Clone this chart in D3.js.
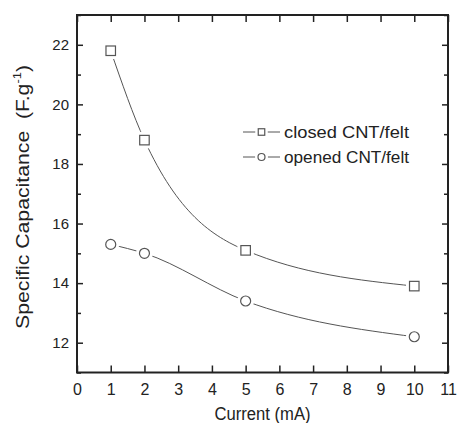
<!DOCTYPE html>
<html><head><meta charset="utf-8">
<script src="https://cdn.jsdelivr.net/npm/d3@7"></script>
<style>body{margin:0;background:#fff}svg{display:block}text{font-family:"Liberation Sans",Arial,sans-serif;fill:#222}</style>
</head><body>
<script>
const currents = [1, 2, 5, 10];
const closedCap = [21.8, 18.8, 15.1, 13.9];
const openedCap = [15.3, 15.0, 13.4, 12.2];
const seriesNames = ["closed CNT/felt", "opened CNT/felt"];
const xTicks = [0,1,2,3,4,5,6,7,8,9,10,11];
const yTicks = [12,14,16,18,20,22];
const yMinor = [11,13,15,17,19,21,23];

const W=458,H=423;
const svg=d3.select("body").append("svg").attr("width",W).attr("height",H);
const x=d3.scaleLinear().domain([0,11]).range([77,448]);
const y=d3.scaleLinear().domain([11,23]).range([372.5,15]);
const lineCol="#555";

// curves
const line=d3.line().x(d=>x(d[0])).y(d=>y(d[1])).curve(d3.curveMonotoneX);
const series=[
  {name:seriesNames[0],vals:currents.map((c,i)=>[c,closedCap[i]]),shape:"square"},
  {name:seriesNames[1],vals:currents.map((c,i)=>[c,openedCap[i]]),shape:"circle"}
];
series.forEach(s=>{
  svg.append("path").attr("d",line(s.vals)).attr("fill","none").attr("stroke",lineCol).attr("stroke-width",1);
});
function marker(g,shape,cx,cy,size,halo){
  if(shape==="square"){
    if(halo) g.append("rect").attr("x",cx-size/2).attr("y",cy-size/2).attr("width",size).attr("height",size).attr("fill","#fff").attr("stroke","#fff").attr("stroke-width",halo);
    g.append("rect").attr("x",cx-size/2).attr("y",cy-size/2).attr("width",size).attr("height",size).attr("fill","#fff").attr("stroke",lineCol).attr("stroke-width",1.2);
  } else {
    if(halo) g.append("circle").attr("cx",cx).attr("cy",cy).attr("r",size/2).attr("fill","#fff").attr("stroke","#fff").attr("stroke-width",halo);
    g.append("circle").attr("cx",cx).attr("cy",cy).attr("r",size/2).attr("fill","#fff").attr("stroke",lineCol).attr("stroke-width",1.2);
  }
}
series.forEach(s=>{
  s.vals.forEach(d=>marker(svg,s.shape,x(d[0]),y(d[1]),s.shape==="square"?9.5:10,7));
});

// frame + axes
const x0=x(0),x1=x(11),y0=y(11),y1=y(23);
const axB=svg.append("g").attr("transform",`translate(0,${y0})`).call(d3.axisBottom(x).tickValues(xTicks).tickSize(-7).tickPadding(11).tickFormat(d3.format("d")));
const axT=svg.append("g").attr("transform",`translate(0,${y1})`).call(d3.axisTop(x).tickValues(xTicks).tickSize(-7).tickFormat(""));
const axL=svg.append("g").attr("transform",`translate(${x0},0)`).call(d3.axisLeft(y).tickValues(yTicks).tickSize(-6).tickPadding(8).tickFormat(d3.format("d")));
const axR=svg.append("g").attr("transform",`translate(${x1},0)`).call(d3.axisRight(y).tickValues(yTicks).tickSize(-6).tickFormat(""));
const axLm=svg.append("g").attr("transform",`translate(${x0},0)`).call(d3.axisLeft(y).tickValues(yMinor).tickSize(-4).tickFormat(""));
const axRm=svg.append("g").attr("transform",`translate(${x1},0)`).call(d3.axisRight(y).tickValues(yMinor).tickSize(-4).tickFormat(""));
[axB,axT,axL,axR,axLm,axRm].forEach(a=>{a.select(".domain").remove();a.selectAll(".tick line").attr("stroke","#222").attr("stroke-width",1.5);});
axB.selectAll(".tick text").attr("font-size",16).attr("fill","#222").style("font-family","Liberation Sans, Arial, sans-serif");
axL.selectAll(".tick text").attr("font-size",15).attr("fill","#222").style("font-family","Liberation Sans, Arial, sans-serif");
svg.append("rect").attr("x",x0).attr("y",y1).attr("width",x1-x0).attr("height",y0-y1).attr("fill","none").attr("stroke","#222").attr("stroke-width",2);

// titles
svg.append("text").attr("x",262.5).attr("y",419.5).attr("text-anchor","middle").attr("font-size",18)
  .attr("textLength",96).attr("lengthAdjust","spacingAndGlyphs").text("Current (mA)");
const yt=svg.append("text").attr("transform","translate(29,197) rotate(-90)").attr("text-anchor","middle").attr("font-size",18)
  .attr("textLength",264).attr("lengthAdjust","spacingAndGlyphs");
yt.append("tspan").text("Specific Capacitance\u00a0\u00a0(F.g");
yt.append("tspan").attr("font-size",11).attr("dy",-8).text("-1");
yt.append("tspan").attr("dy",8).text(")");

// legend
const lg=svg.append("g");
series.forEach((s,i)=>{
  const ly=132+i*25;
  lg.append("line").attr("x1",243).attr("x2",280).attr("y1",ly).attr("y2",ly).attr("stroke",lineCol).attr("stroke-width",1);
  marker(lg,s.shape,261.5,ly,s.shape==="square"?6.5:7,6);
  lg.append("text").attr("x",284).attr("y",ly+6).attr("font-size",17).attr("textLength",125).attr("lengthAdjust","spacingAndGlyphs").text(s.name);
});
</script>
</body></html>
